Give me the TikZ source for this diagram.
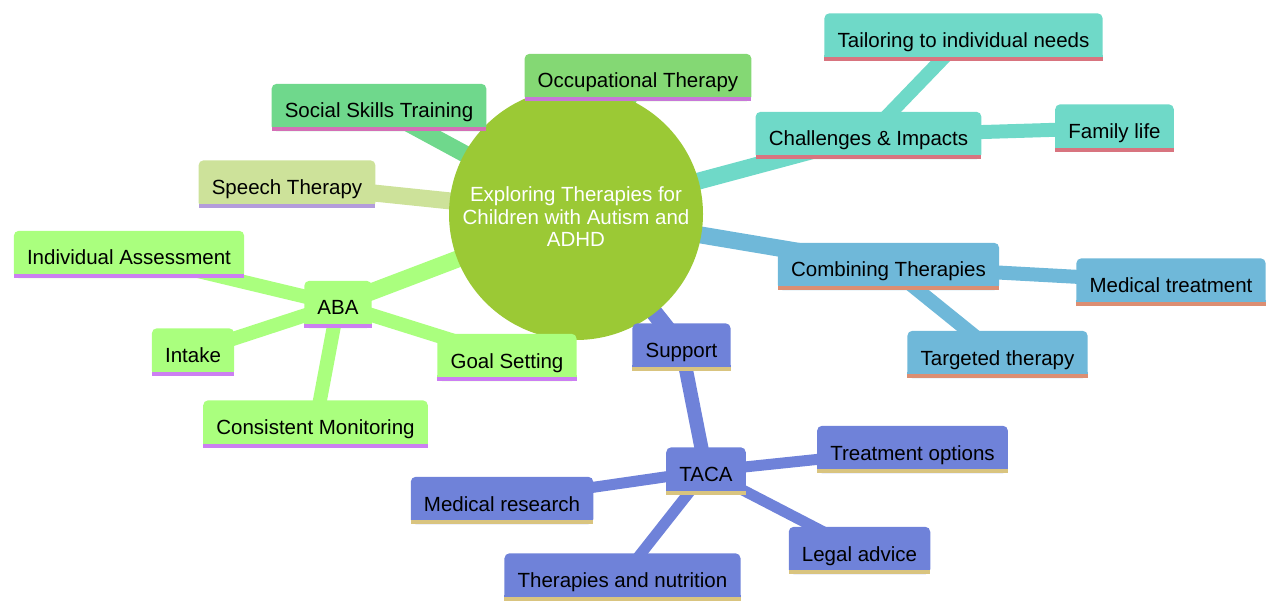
\documentclass[tikz,border=0pt]{standalone}
\usepackage{fontspec}
\setmainfont{Liberation Sans}
\usetikzlibrary{shapes.geometric}
\definecolor{RootGreen}{HTML}{9BC935}
\definecolor{OccFill}{HTML}{84D874}
\definecolor{OccLine}{HTML}{C878D8}
\definecolor{SocFill}{HTML}{6FD88C}
\definecolor{SocLine}{HTML}{D46FB6}
\definecolor{SpeFill}{HTML}{CDE29A}
\definecolor{SpeLine}{HTML}{B39CDB}
\definecolor{AbaFill}{HTML}{AAFF7E}
\definecolor{AbaLine}{HTML}{CC7FF2}
\definecolor{ChaFill}{HTML}{6FD9C8}
\definecolor{ChaLine}{HTML}{D8747F}
\definecolor{ComFill}{HTML}{6FB8D9}
\definecolor{ComLine}{HTML}{DC8E72}
\definecolor{SupFill}{HTML}{6F82D9}
\definecolor{SupLine}{HTML}{D9C47F}
\pgfdeclarelayer{edges}
\pgfsetlayers{edges,main}

\begin{document}
\begin{tikzpicture}[x=1pt,y=-1pt,font=\fontsize{20.5}{22.5}\selectfont,
root/.style={ellipse,fill=RootGreen,minimum width=254pt,minimum height=252pt,inner sep=0pt},
roottext/.style={text=white,align=center,yshift=-3pt},
leaf/.style 2 args={inner xsep=13pt,inner ysep=0pt,text height=34pt,text depth=13pt,
  append after command={\pgfextra{\let\boxnode\tikzlastnode
    \fill[#1,rounded corners=5pt] (\boxnode.south west) rectangle (\boxnode.north east);
    \fill[#1] (\boxnode.south west) rectangle ([yshift=6pt]\boxnode.south east);
    \fill[#2] (\boxnode.south west) rectangle ([yshift=4pt]\boxnode.south east);}}},
link0/.style={line width=17pt},
link1/.style={line width=14pt},
link2/.style={line width=11pt}]
\useasboundingbox (0,0) rectangle (1280,612);
\node[root,label={[roottext]center:Exploring Therapies for\\Children with Autism and\\ADHD}] (root) at (576,214) {};
\node[leaf={OccFill}{OccLine}] (occ) at (638,77.5) {Occupational Therapy};
\node[leaf={SocFill}{SocLine}] (soc) at (379,107.5) {Social Skills Training};
\node[leaf={SpeFill}{SpeLine}] (spe) at (287,184) {Speech Therapy};
\node[leaf={AbaFill}{AbaLine}] (aba) at (338,304.5) {ABA};
\node[leaf={AbaFill}{AbaLine}] (assess) at (129,254.5) {Individual Assessment};
\node[leaf={AbaFill}{AbaLine}] (intake) at (193,352) {Intake};
\node[leaf={AbaFill}{AbaLine}] (monitor) at (315.5,424) {Consistent Monitoring};
\node[leaf={AbaFill}{AbaLine}] (goal) at (507,357.5) {Goal Setting};
\node[leaf={ChaFill}{ChaLine}] (chall) at (868.5,135.5) {Challenges \& Impacts};
\node[leaf={ChaFill}{ChaLine}] (tailor) at (963.5,37) {Tailoring to individual needs};
\node[leaf={ChaFill}{ChaLine}] (family) at (1114.5,128) {Family life};
\node[leaf={ComFill}{ComLine}] (combine) at (888.5,266.5) {Combining Therapies};
\node[leaf={ComFill}{ComLine}] (medtreat) at (1171,282) {Medical treatment};
\node[leaf={ComFill}{ComLine}] (target) at (997.5,354.5) {Targeted therapy};
\node[leaf={SupFill}{SupLine}] (support) at (681.5,347) {Support};
\node[leaf={SupFill}{SupLine}] (taca) at (706,471) {TACA};
\node[leaf={SupFill}{SupLine}] (options) at (912.5,449.5) {Treatment options};
\node[leaf={SupFill}{SupLine}] (research) at (502,500.5) {Medical research};
\node[leaf={SupFill}{SupLine}] (legal) at (859.5,550.5) {Legal advice};
\node[leaf={SupFill}{SupLine}] (nutrition) at (622.5,577) {Therapies and nutrition};
\begin{pgfonlayer}{edges}
\draw[link0,OccFill] (root.center) -- (occ.center);
\draw[link0,SocFill] (root.center) -- (soc.center);
\draw[link0,SpeFill] (root.center) -- (spe.center);
\draw[link0,AbaFill] (root.center) -- (aba.center);
\draw[link0,ChaFill] (root.center) -- (chall.center);
\draw[link0,ComFill] (root.center) -- (combine.center);
\draw[link0,SupFill] (root.center) -- (support.center);
\draw[link1,AbaFill] (aba.center) -- (assess.center);
\draw[link1,AbaFill] (aba.center) -- (intake.center);
\draw[link1,AbaFill] (aba.center) -- (monitor.center);
\draw[link1,AbaFill] (aba.center) -- (goal.center);
\draw[link1,ChaFill] (chall.center) -- (tailor.center);
\draw[link1,ChaFill] (chall.center) -- (family.center);
\draw[link1,ComFill] (combine.center) -- (medtreat.center);
\draw[link1,ComFill] (combine.center) -- (target.center);
\draw[link1,SupFill] (support.center) -- (taca.center);
\draw[link2,SupFill] (taca.center) -- (options.center);
\draw[link2,SupFill] (taca.center) -- (research.center);
\draw[link2,SupFill] (taca.center) -- (legal.center);
\draw[link2,SupFill] (taca.center) -- (nutrition.center);
\end{pgfonlayer}
\end{tikzpicture}
\end{document}
